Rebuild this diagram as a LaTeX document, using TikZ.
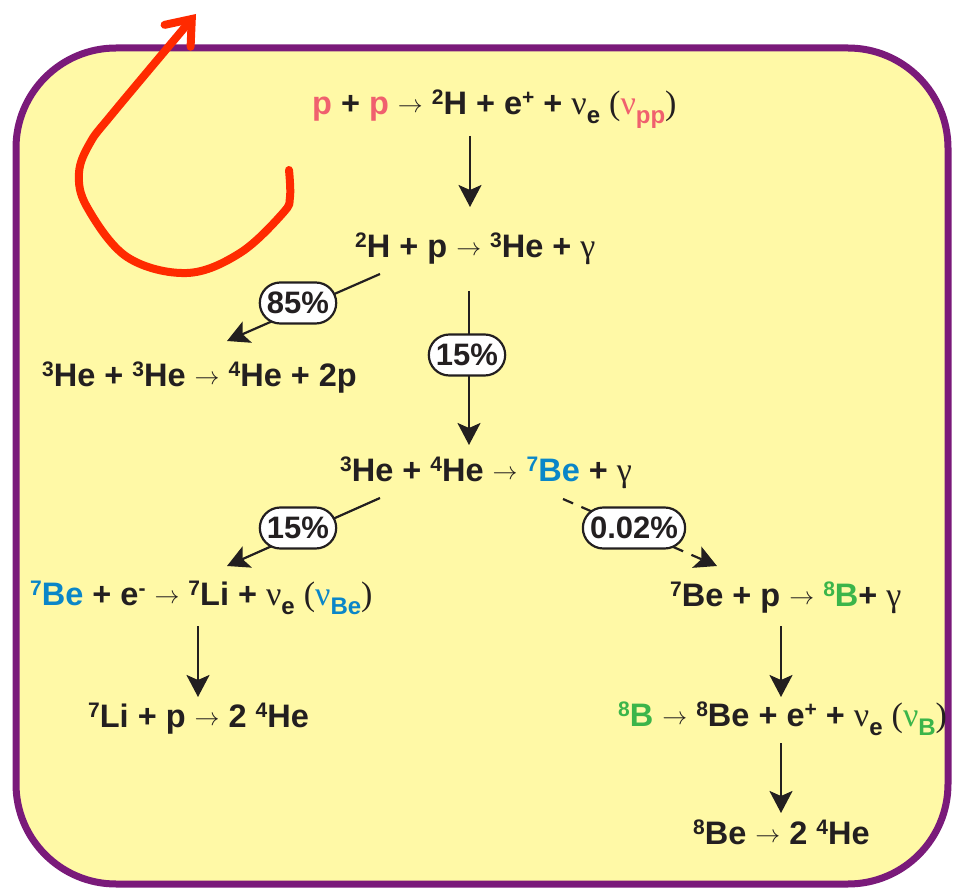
\documentclass[tikz,border=0pt]{standalone}
\usepackage{fontspec}
\setmainfont{Liberation Sans}
\newfontfamily\gk{Liberation Serif}
\usetikzlibrary{arrows.meta,shapes.misc}
\definecolor{boxpurple}{HTML}{7A1A7A}
\definecolor{boxfill}{HTML}{FFF9A6}
\definecolor{ppink}{HTML}{F0606E}
\definecolor{beblue}{HTML}{0A86C8}
\definecolor{bgreen}{HTML}{3BB54A}
\definecolor{redarr}{HTML}{FF2A00}
\definecolor{ink}{HTML}{231F20}
\newcommand\upi[1]{\raisebox{10pt}{\fontsize{21}{21}\selectfont #1}}
\newcommand\dni[1]{\raisebox{-9pt}{\fontsize{24}{24}\selectfont #1}}
\newcommand\gkt[1]{{\gk\mdseries\fontsize{34}{34}\selectfont #1}}
\newcommand\rarr{ \raisebox{2pt}{\fontsize{26}{26}\selectfont$\rightarrow$} }
\begin{document}
\begin{tikzpicture}[x=1pt,y=-1pt,
  eq/.style={anchor=base west, inner sep=0pt, font=\fontsize{32.5}{32.5}\selectfont\bfseries, text=ink},
  pill/.style={rounded rectangle, draw=ink, line width=2.2pt, fill=white, inner xsep=4pt, inner ysep=0pt, minimum height=41pt, font=\fontsize{31}{31}\selectfont\bfseries, text=ink},
  flow/.style={draw=ink, line width=2.2pt, -{Stealth[length=22pt,width=23pt,inset=5pt]}},
  dashflow/.style={flow, dash pattern=on 11pt off 9pt}]
\useasboundingbox (0,0) rectangle (962,893);
\draw[boxpurple, line width=7pt, fill=boxfill, rounded corners=100pt] (16,48) rectangle (948,884);

\node[eq] (r1) at (312,115) {{\color{ppink}p} + {\color{ppink}p}\rarr\upi{2}H + e\upi{+} + \gkt{ν}\dni{e} \gkt{(}{\color{ppink}\gkt{ν}\dni{pp}}\gkt{)}};
\node[eq] (r2) at (355,258) {\upi{2}H + p\rarr\upi{3}He + \gkt{γ}};
\node[eq] (r3) at (42,387) {\upi{3}He + \upi{3}He\rarr\upi{4}He + 2p};
\node[eq] (r4) at (340,482) {\upi{3}He + \upi{4}He\rarr{\color{beblue}\upi{7}Be} + \gkt{γ}};
\node[eq] (r5) at (30,605) {{\color{beblue}\upi{7}Be} + e\upi{-}\rarr\upi{7}Li + \gkt{ν}\dni{e} \gkt{(}{\color{beblue}\gkt{ν}\dni{Be}}\gkt{)}};
\node[eq] (r6) at (670,606) {\upi{7}Be + p\rarr{\color{bgreen}\upi{8}B}+ \gkt{γ}};
\node[eq] (r7) at (88,727) {\upi{7}Li + p\rarr 2 \upi{4}He};
\node[eq] (r8) at (618,726) {{\color{bgreen}\upi{8}B}\rarr\upi{8}Be + e\upi{+} + \gkt{ν}\dni{e} \gkt{(}{\color{bgreen}\gkt{ν}\dni{B}}\gkt{)}};
\node[eq] (r9) at (693,844) {\upi{8}Be\rarr 2 \upi{4}He};

\coordinate (a1s) at (470,136); \coordinate (a1e) at (470,207);
\coordinate (a2s) at (380,274); \coordinate (a2e) at (227,341);
\coordinate (a3s) at (469,291); \coordinate (a3e) at (469,445);
\coordinate (a4s) at (380,498); \coordinate (a4e) at (227,566);
\coordinate (a5s) at (563,499); \coordinate (a5e) at (717,566);
\coordinate (a6s) at (198,626); \coordinate (a6e) at (198,697);
\coordinate (a7s) at (781,626); \coordinate (a7e) at (781,697);
\coordinate (a8s) at (781,743); \coordinate (a8e) at (781,813);

\draw[flow] (a1s) -- (a1e);
\draw[flow] (a2s) -- (a2e);
\draw[flow] (a3s) -- (a3e);
\draw[flow] (a4s) -- (a4e);
\draw[dashflow] (a5s) -- (a5e);
\draw[flow] (a6s) -- (a6e);
\draw[flow] (a7s) -- (a7e);
\draw[flow] (a8s) -- (a8e);

\node[pill] (p1) at (298,303) {85\%};
\node[pill] (p2) at (467,355) {15\%};
\node[pill] (p3) at (298,528) {15\%};
\node[pill] (p4) at (634,528) {0.02\%};

\draw[redarr, line width=8pt, line cap=round, -{Straight Barb[length=22pt,width=34pt,line cap=round]}]
  plot[smooth, tension=0.6] coordinates {(289,170) (290,197) (283,213) (240,253) (187,273) (127,257) (87,207) (79,173) (90,143) (113,113) (196,14)};
\end{tikzpicture}
\end{document}
